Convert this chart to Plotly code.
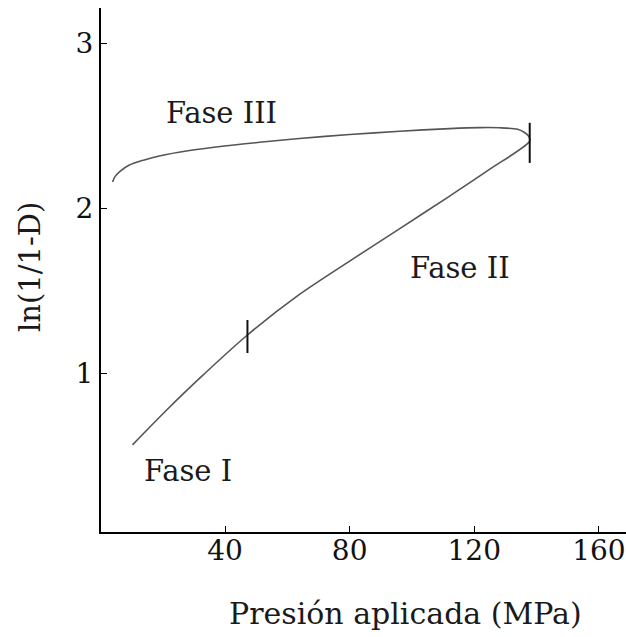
import plotly.graph_objects as go

# Loading curve (Fase I + Fase II) then unloading branch (Fase III)
x_curve = [10.3, 21.2, 31.8, 47.2, 63.9, 80.0, 96.1, 112.1, 125.0, 137.8,
           137.5, 136.0, 133.9, 128.2, 121.8, 112.1, 96.1, 80.0, 63.9, 51.1, 39.8, 28.6, 18.9, 14.1, 9.3, 6.4, 4.8, 3.9]
y_curve = [0.568, 0.778, 0.971, 1.234, 1.480, 1.682, 1.879, 2.076, 2.239, 2.409,
           2.438, 2.463, 2.481, 2.490, 2.491, 2.485, 2.469, 2.449, 2.425, 2.402, 2.380, 2.352, 2.319, 2.295, 2.264, 2.227, 2.197, 2.161]

# phase boundary markers
mark1_x = [47.2, 47.2]
mark1_y = [1.125, 1.325]
mark2_x = [137.8, 137.8]
mark2_y = [2.277, 2.52]

x_ticks = [40, 80, 120, 160]
y_ticks = [1, 2, 3]

labels = ["Fase I", "Fase II", "Fase III"]
label_x = [28.0, 115.5, 38.8]
label_y = [0.41, 1.64, 2.577]

FONT = "DejaVu Serif"
W, H = 626, 637
ML, MR, MT, MB = 101, 0, 8, 105
PW, PH = W - ML - MR, H - MT - MB

fig = go.Figure()
fig.add_trace(go.Scatter(x=x_curve, y=y_curve, mode="lines",
                         line=dict(color="#555555", width=1.6, shape="spline", smoothing=0.8),
                         hoverinfo="skip", showlegend=False))
for mx, my in [(mark1_x, mark1_y), (mark2_x, mark2_y)]:
    fig.add_trace(go.Scatter(x=mx, y=my, mode="lines",
                             line=dict(color="#111111", width=2),
                             hoverinfo="skip", showlegend=False))

for t, xx, yy in zip(labels, label_x, label_y):
    fig.add_annotation(x=xx, y=yy, text=t, showarrow=False,
                       font=dict(family=FONT, size=29, color="#1a1a1a"))

# axis titles (placed in pixel terms, converted to paper fractions)
fig.add_annotation(x=(405 - ML) / PW, y=(H - MB - 613) / PH, xref="paper", yref="paper",
                   text="Presión aplicada (MPa)", showarrow=False,
                   xanchor="center", yanchor="middle",
                   font=dict(family=FONT, size=30, color="#1a1a1a"))
fig.add_annotation(x=(30 - ML) / PW, y=(H - MB - 267) / PH,
                   xref="paper", yref="paper", text="ln(1/1-D)", textangle=-90,
                   showarrow=False, xanchor="center", yanchor="middle",
                   font=dict(family=FONT, size=29, color="#1a1a1a"))

fig.update_layout(
    width=W, height=H,
    margin=dict(l=ML, r=MR, t=MT, b=MB),
    paper_bgcolor="white", plot_bgcolor="white",
    font=dict(family=FONT, size=28, color="#1a1a1a"),
)

fig.update_xaxes(range=[0.2, 168.7], tickvals=x_ticks, ticktext=[str(v) for v in x_ticks],
                 showline=True, linecolor="black", linewidth=2, mirror=False,
                 ticks="inside", ticklen=6, tickcolor="black", tickwidth=1,
                 ticklabelstandoff=-8,
                 showgrid=False, zeroline=False, tickfont=dict(family=FONT, size=28, color="#111111"))
fig.update_yaxes(range=[0.04, 3.216], tickvals=y_ticks, ticktext=[str(v) for v in y_ticks],
                 showline=True, linecolor="black", linewidth=2, mirror=False,
                 ticks="inside", ticklen=6, tickcolor="black", tickwidth=1,
                 showgrid=False, zeroline=False, tickfont=dict(family=FONT, size=28, color="#111111"))

fig.write_html("out.html")
